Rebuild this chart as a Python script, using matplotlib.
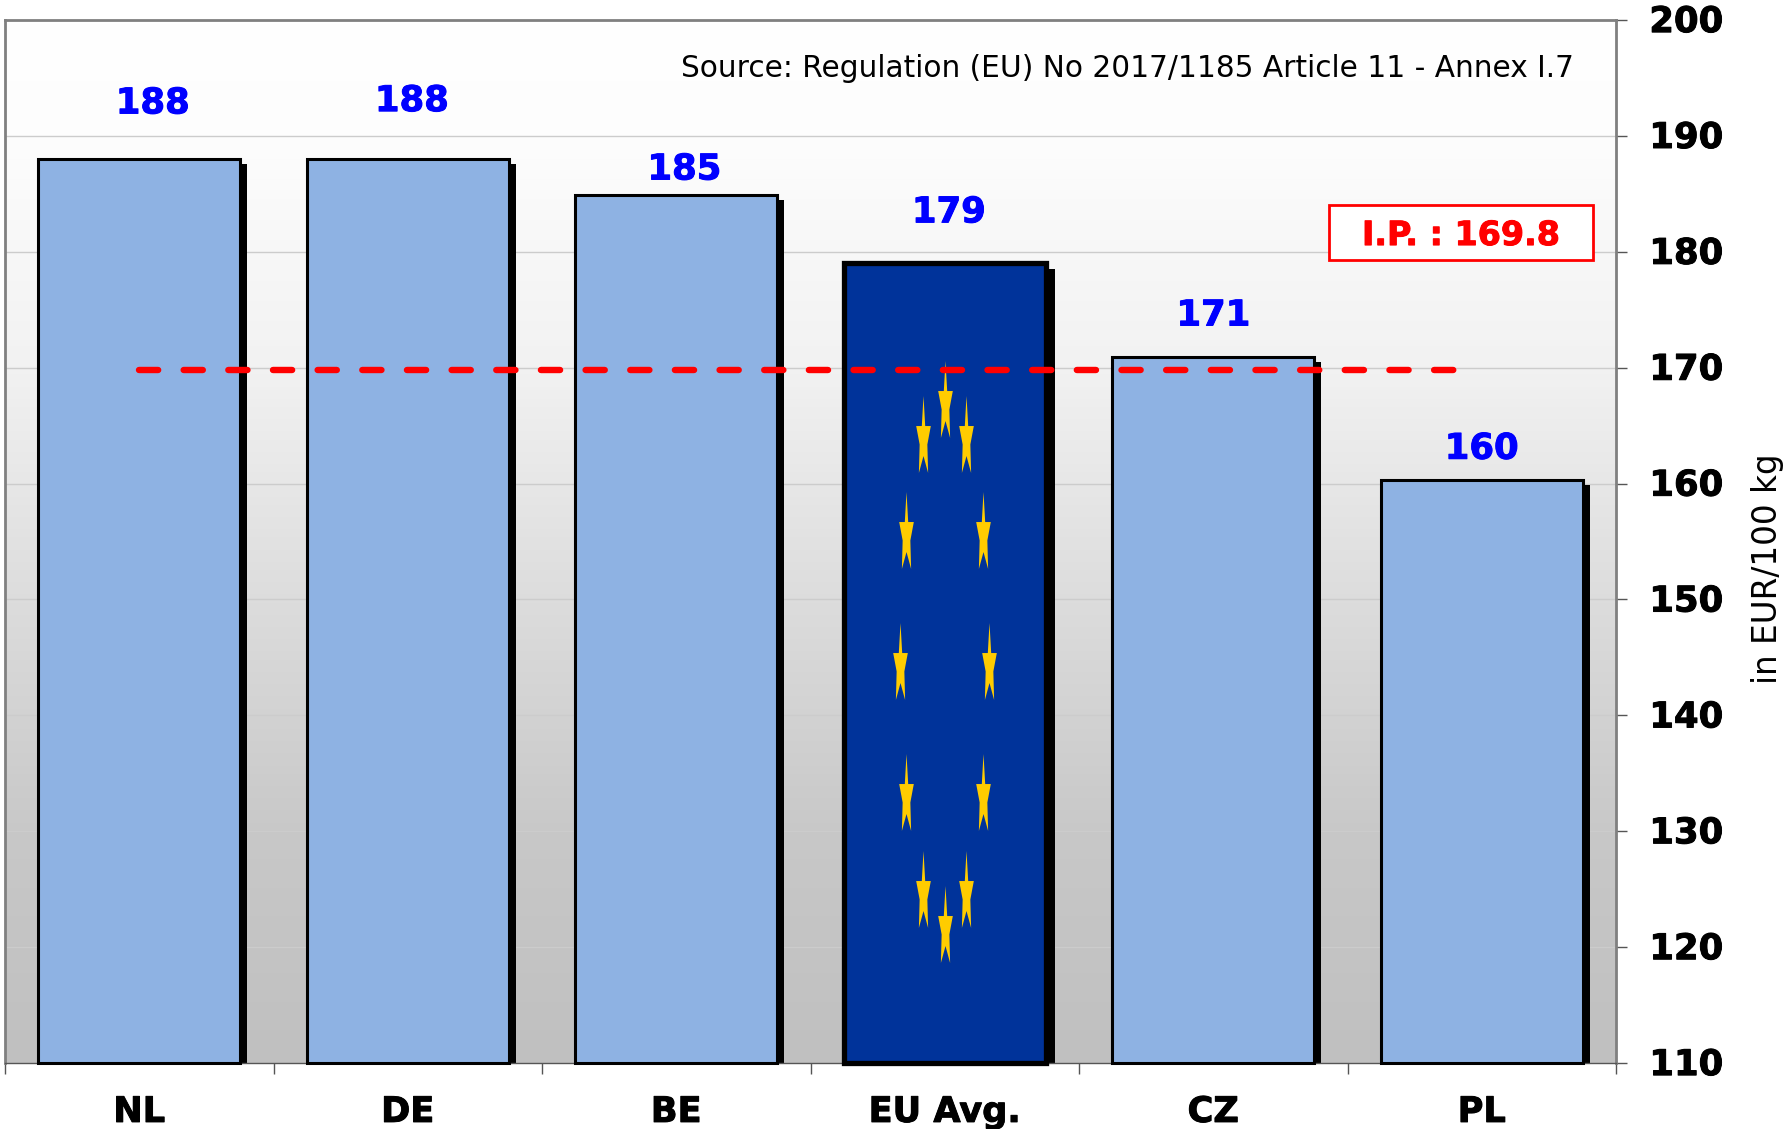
import numpy as np
import matplotlib
matplotlib.use('Agg')
import matplotlib.pyplot as plt
import matplotlib.patheffects as pe
from matplotlib.colors import LinearSegmentedColormap
from matplotlib.patches import Rectangle
from matplotlib.path import Path
from matplotlib.transforms import ScaledTranslation

countries = ['NL', 'DE', 'BE', 'EU Avg.', 'CZ', 'PL']
prices = [188, 188, 184.9, 179, 170.9, 160.3]
price_labels = ['188', '188', '185', '179', '171', '160']
intervention_price = 169.8
yticks = [110, 120, 130, 140, 150, 160, 170, 180, 190, 200]

# where the value labels sit, they are not evenly placed in the original
label_x = [0.55, 1.515, 2.53, 3.515, 4.5, 5.5]
label_y = [192.8, 193.0, 187.1, 183.4, 174.5, 163.0]

# flag stars on the EU bar: offset from bar centre, height on the axis
star_dx = [0, -0.081, 0.081, -0.144, 0.144, -0.165, 0.165, -0.144, 0.144, -0.081, 0.081, 0]
star_y = [167.3, 164.3, 164.3, 156.0, 156.0, 144.7, 144.7, 133.4, 133.4, 125.0, 125.0, 122.0]

W, H = 1786, 1129
fig = plt.figure(figsize=(W/100, H/100), dpi=100)
ax = fig.add_axes([5/W, 1 - 1063/H, (1616 - 5)/W, (1063 - 20)/H])

heavy = [pe.withStroke(linewidth=0.7, foreground='black')]
heavy_blue = [pe.withStroke(linewidth=0.7, foreground='#0000ff')]
heavy_red = [pe.withStroke(linewidth=0.7, foreground='#ff0000')]

# background gradient
bg = LinearSegmentedColormap.from_list('bg', [(0, '#c0c0c0'), (0.22, '#c8c8c8'), (0.44, '#dcdcdc'),
                                              (0.67, '#f2f2f2'), (0.89, '#fdfdfd'), (1, '#ffffff')])
ax.imshow(np.linspace(1, 0, 256).reshape(-1, 1), cmap=bg, vmin=0, vmax=1, aspect='auto',
          extent=(0, 1, 0, 1), transform=ax.transAxes, zorder=0)

xpos = np.arange(len(countries)) + 0.5
bar_w = 0.752
base = yticks[0]

# gridlines
for v in yticks[1:-1]:
    ax.axhline(v, color='#cccccc', lw=1.0, zorder=1)

# shadows then bars
heights = np.array(prices, dtype=float) - base
shadow_dx = np.array([0.026, 0.026, 0.026, 0.033, 0.026, 0.026])
ax.bar(xpos + shadow_dx, heights - 0.45, bottom=base, width=bar_w, color='black', zorder=2)
colors = ['#8eb2e3'] * 6
colors[3] = '#00339a'
lws = [2.2] * 6
lws[3] = 3.8
ax.bar(xpos, heights, bottom=base, width=bar_w, color=colors, edgecolor='black', linewidth=lws,
       zorder=3, clip_on=False)

# stars
sv = np.array([(0, 0.5), (0.022, 0.11), (0.095, 0.11), (0.05, -0.13), (0.06, -0.5), (0, -0.28),
               (-0.06, -0.5), (-0.05, -0.13), (-0.095, 0.11), (-0.022, 0.11), (0, 0.5)])
star = Path(sv, closed=True)
ax.scatter(xpos[3] + np.array(star_dx), star_y, marker=star, s=3070, color='#ffcc00',
           linewidths=0, zorder=4)

# intervention price line
ax.plot([xpos[0], xpos[-1] - 0.08], [intervention_price] * 2, color='#ff0000', lw=4.6,
        linestyle=(0, (3.0, 3.99)), dash_capstyle='round', zorder=5)

for x, y, s in zip(label_x, label_y, price_labels):
    ax.text(x, y, s, color='#0000ff', fontsize=25.5, fontweight='bold', ha='center', va='center',
            zorder=6, path_effects=heavy_blue)

ax.text(5.842, 195.8, 'Source: Regulation (EU) No 2017/1185 Article 11 - Annex I.7', fontsize=21.3,
        ha='right', va='center', color='black', zorder=6)

ax.add_patch(Rectangle((4.93, 179.3), 0.986, 4.74, facecolor='white', edgecolor='#ff0000', lw=2, zorder=6))
ax.text(5.423, 181.4, 'I.P. : 169.8', color='#ff0000', fontsize=24, fontweight='bold',
        ha='center', va='center', zorder=7, path_effects=heavy_red)

ax.set_xlim(0, 6)
ax.set_ylim(110, 200)
ax.yaxis.tick_right()
ax.set_yticks(yticks)
ax.set_yticklabels(yticks, fontsize=25.5, fontweight='bold', path_effects=heavy)
ax.tick_params(axis='y', length=8, width=1, color='#555555', pad=16)

ax.set_xticks(np.arange(7))
ax.set_xticklabels([])
ax.set_xticks(xpos, minor=True)
ax.set_xticklabels(countries, minor=True, fontsize=25.3, fontweight='bold', path_effects=heavy)
ax.tick_params(axis='x', which='major', length=8, width=1, color='#555555')
ax.tick_params(axis='x', which='minor', length=0, pad=23)

# y labels sit a little above their ticks in the original
shift = ScaledTranslation(0, 1/72, fig.dpi_scale_trans)
for lab in ax.get_yticklabels():
    lab.set_transform(lab.get_transform() + shift)

for side in ['top', 'left', 'right']:
    ax.spines[side].set_color('#808080')
    ax.spines[side].set_linewidth(2)
ax.spines['bottom'].set_color('#555555')
ax.spines['bottom'].set_linewidth(1)

fig.text(1768/W, 1 - 569/H, 'in EUR/100 kg', rotation=90, fontsize=23.5, ha='center', va='center')

fig.savefig('out.png', dpi=100)
